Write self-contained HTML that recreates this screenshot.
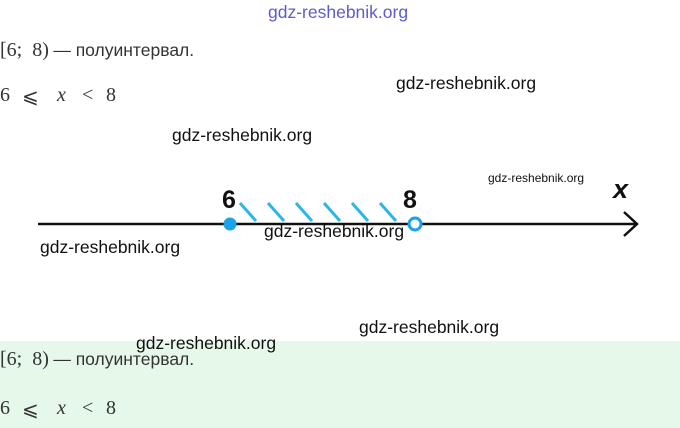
<!DOCTYPE html>
<html><head><meta charset="utf-8"><style>
body{margin:0;width:680px;height:428px;position:relative;background:#fff;overflow:hidden;font-family:"Liberation Sans",sans-serif}
.t{position:absolute;white-space:nowrap}
.m{font-family:"Liberation Serif",serif;font-size:20px;color:#333}
.r{font-family:"Liberation Sans",sans-serif;font-size:17.5px;color:#333}
.w{font-family:"Liberation Sans",sans-serif;font-size:17.5px;color:#111}
</style></head><body>
<div style="position:absolute;left:0;top:341px;width:680px;height:87px;background:#e5f8ea"></div>
<div class="t" style="left:268px;top:2px;font-size:17.5px;color:#5c5ccf">gdz-reshebnik.org</div>

<div class="t" style="left:0;top:39px"><span class="m">[6;&nbsp; 8)</span> <span class="r">— полуинтервал.</span></div>
<div class="t m" style="left:0;top:84px">6</div><div class="t m" style="left:22px;top:84px">⩽</div><div class="t m" style="left:57px;top:84px"><i>x</i></div><div class="t m" style="left:82px;top:84px">&lt;</div><div class="t m" style="left:106px;top:84px">8</div>

<div class="t" style="left:0;top:348px"><span class="m">[6;&nbsp; 8)</span> <span class="r">— полуинтервал.</span></div>
<div class="t m" style="left:0;top:397px">6</div><div class="t m" style="left:22px;top:397px">⩽</div><div class="t m" style="left:57px;top:397px"><i>x</i></div><div class="t m" style="left:82px;top:397px">&lt;</div><div class="t m" style="left:106px;top:397px">8</div>

<svg style="position:absolute;left:0;top:0" width="680" height="428">
<line x1="38" y1="224" x2="636" y2="224" stroke="#111" stroke-width="2.5"/>
<polyline points="624,212 637,224 624,236" fill="none" stroke="#111" stroke-width="2.5"/>
<g stroke="#29b6e8" stroke-width="3">
<line x1="240" y1="203" x2="256" y2="221"/>
<line x1="268" y1="203" x2="284" y2="221"/>
<line x1="296" y1="203" x2="312" y2="221"/>
<line x1="324" y1="203" x2="340" y2="221"/>
<line x1="352" y1="203" x2="368" y2="221"/>
<line x1="380" y1="203" x2="396" y2="221"/>
</g>
<circle cx="230" cy="224" r="6.5" fill="#1aa3e8"/>
<circle cx="415" cy="224" r="6" fill="#fff" stroke="#1aa3e8" stroke-width="3"/>
<text x="222" y="208" font-family="Liberation Sans" font-weight="bold" font-size="25" fill="#111">6</text>
<text x="403" y="208" font-family="Liberation Sans" font-weight="bold" font-size="25" fill="#111">8</text>
<text x="613" y="198" font-family="Liberation Sans" font-weight="bold" font-style="italic" font-size="27" fill="#111">x</text>
</svg>

<div class="t w" style="left:396px;top:73px">gdz-reshebnik.org</div>
<div class="t w" style="left:172px;top:125px">gdz-reshebnik.org</div>
<div class="t" style="left:488px;top:171px;font-size:12px;color:#111">gdz-reshebnik.org</div>
<div class="t w" style="left:264px;top:221px">gdz-reshebnik.org</div>
<div class="t w" style="left:40px;top:237px">gdz-reshebnik.org</div>
<div class="t w" style="left:359px;top:317px">gdz-reshebnik.org</div>
<div class="t w" style="left:136px;top:333px">gdz-reshebnik.org</div>
</body></html>
